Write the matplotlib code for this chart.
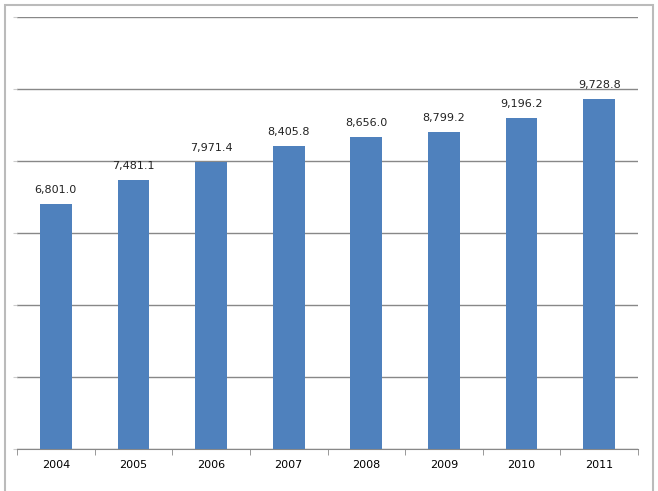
import matplotlib
matplotlib.use("Agg")
import matplotlib.pyplot as plt
from matplotlib.patches import Rectangle

years = ["2004", "2005", "2006", "2007", "2008", "2009", "2010", "2011"]
values = [6801.0, 7481.1, 7971.4, 8405.8, 8656.0, 8799.2, 9196.2, 9728.8]

W, H = 658, 491
fig = plt.figure(figsize=(W / 100, H / 100), dpi=100)
ax = fig.add_axes([17 / W, 1 - 449 / H, (638 - 17) / W, (449 - 17) / H])

x = list(range(len(years)))
ax.bar(x, values, width=0.41, color="#4F81BD", zorder=3)
for xi, v in zip(x, values):
    ax.text(xi, v + 250, f"{v:,.1f}", ha="center", va="bottom", fontsize=8, color="#222222")

ax.set_xlim(-0.5, len(years) - 0.5)
ax.set_ylim(0, 12000)
ax.set_yticks(range(0, 12001, 2000))
ax.set_yticklabels([])
ax.yaxis.grid(True, color="#888888", linewidth=1)
ax.set_axisbelow(True)
ax.set_xticks(x)
ax.set_xticklabels(years, fontsize=8)
ax.set_xticks([i - 0.5 for i in range(len(years) + 1)], minor=True)
ax.tick_params(axis="x", which="major", length=0, pad=8)
ax.tick_params(axis="x", which="minor", length=4, color="#888888")
ax.tick_params(axis="y", length=3, color="#cccccc")
for s in ["top", "right", "left"]:
    ax.spines[s].set_visible(False)
ax.spines["bottom"].set_color("#888888")

fig.patches.append(Rectangle((5 / W, -0.05), (653 - 5) / W, 1 - 5 / H + 0.05,
                             transform=fig.transFigure, fill=False,
                             edgecolor="#bbbbbb", linewidth=1.5))
fig.savefig("out.png", dpi=100)
